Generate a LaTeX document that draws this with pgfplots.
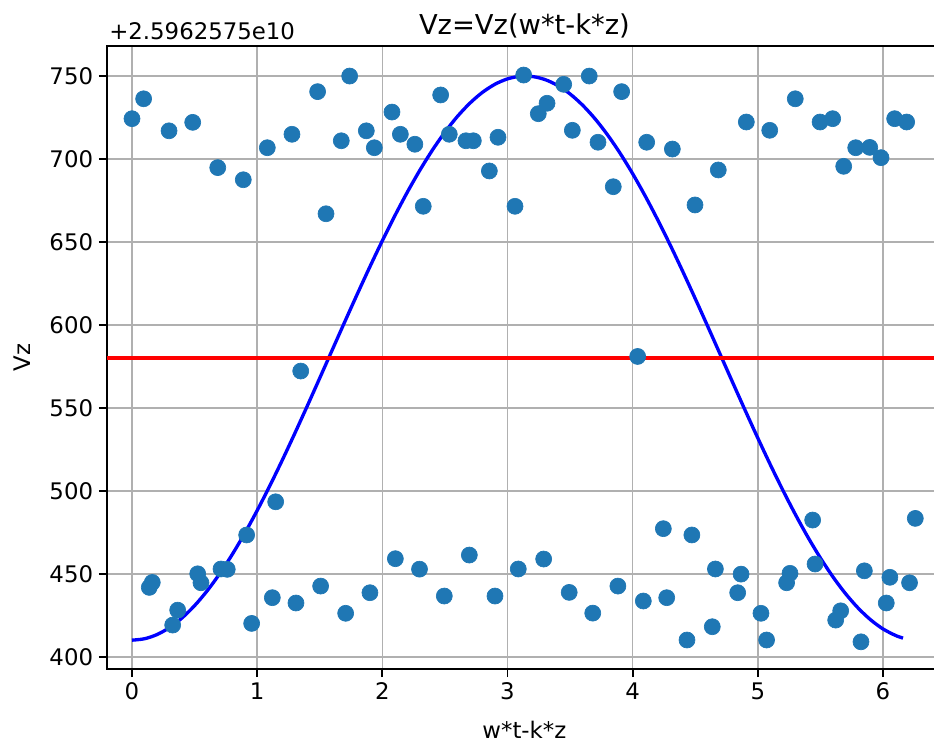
\documentclass[border=0pt]{standalone}
\usepackage{pgfplots}
\pgfplotsset{compat=1.18}
\usepackage{fontspec}
\setmainfont{DejaVu Sans}
\definecolor{c0}{HTML}{1F77B4}
\definecolor{gridgray}{HTML}{B0B0B0}
\begin{document}
\begin{tikzpicture}
\begin{axis}[
  scale only axis,
  width=500.9pt, height=373.8pt,
  xmin=-0.2, xmax=6.47,
  ymin=392.6, ymax=768.1,
  xtick={0,1,2,3,4,5,6},
  ytick={400,450,500,550,600,650,700,750},
  /pgf/number format/assume math mode=true,
  tick label style={font=\fontsize{13.7}{16}\selectfont},
  tick align=outside, tick pos=left,
  major tick length=4.8pt,
  grid=major,
  major grid style={gridgray, line width=0.9pt},
  axis line style={black, line width=1.1pt},
  tick style={black, line width=1.1pt},
  clip=false,
  every axis title shift=0pt,
  title={Vz=Vz(w*t-k*z)},
  title style={at={(axis description cs:0.5,1.0185)}, anchor=base, inner sep=0pt, font=\fontsize{16.4}{19}\selectfont},
  xlabel={w*t-k*z},
  xlabel style={at={(axis description cs:0.5,-0.1108)}, anchor=base, inner sep=0pt, font=\fontsize{13.7}{16}\selectfont},
  ylabel={Vz},
  ylabel style={at={(axis description cs:-0.0921,0.5)}, anchor=base, inner sep=0pt, rotate=0, font=\fontsize{13.7}{16}\selectfont},
]
\addplot[only marks, mark=*, mark size=4.8pt, mark options={fill=c0, draw=c0}] coordinates {
(0.000,724.3) (0.093,736.3) (0.138,441.8) (0.162,444.8) (0.296,717.0)
(0.325,419.1) (0.365,428.1) (0.485,722.1) (0.525,450.0) (0.551,444.6)
(0.685,694.8) (0.711,452.9) (0.761,452.7) (0.889,687.5) (0.916,473.4)
(0.956,420.1) (1.081,706.8) (1.121,435.6) (1.148,493.4) (1.278,714.9)
(1.310,432.4) (1.348,572.2) (1.483,740.6) (1.507,442.6) (1.550,667.0)
(1.672,711.0) (1.707,426.2) (1.739,750.0) (1.872,717.0) (1.901,438.6)
(1.936,706.8) (2.077,728.3) (2.104,459.1) (2.144,714.9) (2.260,708.9)
(2.297,452.8) (2.327,671.5) (2.466,738.6) (2.495,436.6) (2.535,714.9)
(2.668,711.0) (2.695,461.3) (2.727,711.0) (2.855,692.8) (2.900,436.6)
(2.924,713.1) (3.060,671.5) (3.086,452.9) (3.129,750.6) (3.246,727.3)
(3.289,458.9) (3.316,733.6) (3.449,745.0) (3.493,438.8) (3.518,717.3)
(3.653,750.0) (3.681,426.3) (3.723,710.1) (3.845,683.3) (3.882,442.6)
(3.912,740.6) (4.040,581.0) (4.085,433.6) (4.112,710.1) (4.245,477.2)
(4.272,435.6) (4.317,706.0) (4.434,410.1) (4.473,473.4) (4.498,672.3)
(4.636,418.1) (4.661,452.9) (4.684,693.4) (4.839,438.6) (4.866,449.8)
(4.908,722.3) (5.025,426.2) (5.070,410.1) (5.095,717.3) (5.230,444.6)
(5.257,450.3) (5.299,736.3) (5.438,482.4) (5.457,455.9) (5.497,722.3)
(5.598,724.3) (5.622,422.1) (5.662,427.7) (5.686,695.6) (5.782,706.8)
(5.824,409.0) (5.851,451.8) (5.894,707.0) (5.984,700.8) (6.026,432.4)
(6.055,447.9) (6.093,724.3) (6.189,722.3) (6.212,444.6) (6.258,483.4)
};
\addplot[blue, line width=2pt, smooth] coordinates {
(0,410) (0.1,410.85) (0.2,413.39) (0.3,417.59) (0.4,423.42) (0.5,430.81)
(0.6,439.69) (0.7,449.98) (0.8,461.56) (0.9,474.33) (1.0,488.15)
(1.1,502.89) (1.2,518.40) (1.3,534.53) (1.4,551.10) (1.5,567.97)
(1.6,584.96) (1.7,601.90) (1.8,618.62) (1.9,634.96) (2.0,650.75)
(2.1,665.82) (2.2,680.05) (2.3,693.27) (2.4,705.36) (2.5,716.19)
(2.6,725.67) (2.7,733.69) (2.8,740.18) (2.9,745.06) (3.0,748.30)
(3.1,749.85) (3.2,749.71) (3.3,747.87) (3.4,744.36) (3.5,739.20)
(3.6,732.45) (3.7,724.18) (3.8,714.46) (3.9,703.41) (4.0,691.12)
(4.1,677.72) (4.2,663.34) (4.3,648.14) (4.4,632.25) (4.5,615.84)
(4.6,599.07) (4.7,582.11) (4.8,565.13) (4.9,548.29) (5.0,531.78)
(5.1,515.74) (5.2,500.35) (5.3,485.76) (5.4,472.10) (5.5,459.53)
(5.6,448.15) (5.7,438.10) (5.8,429.46) (5.9,422.33) (6.0,416.77)
(6.1,412.84) (6.16,411.24)
};
\addplot[red, line width=2pt] coordinates {(-0.2,580) (6.47,580)};
\node[anchor=base west, font=\fontsize{13.7}{16}\selectfont, inner sep=0pt] at (axis description cs:0.0024,1.0112) {+2.5962575e10};
\coordinate (BL) at (axis cs:-1.0546,348.58);
\coordinate (TR) at (axis cs:6.4074,795.84);
\end{axis}
\pgfresetboundingbox
\useasboundingbox (BL) rectangle (TR);
\end{tikzpicture}
\end{document}
